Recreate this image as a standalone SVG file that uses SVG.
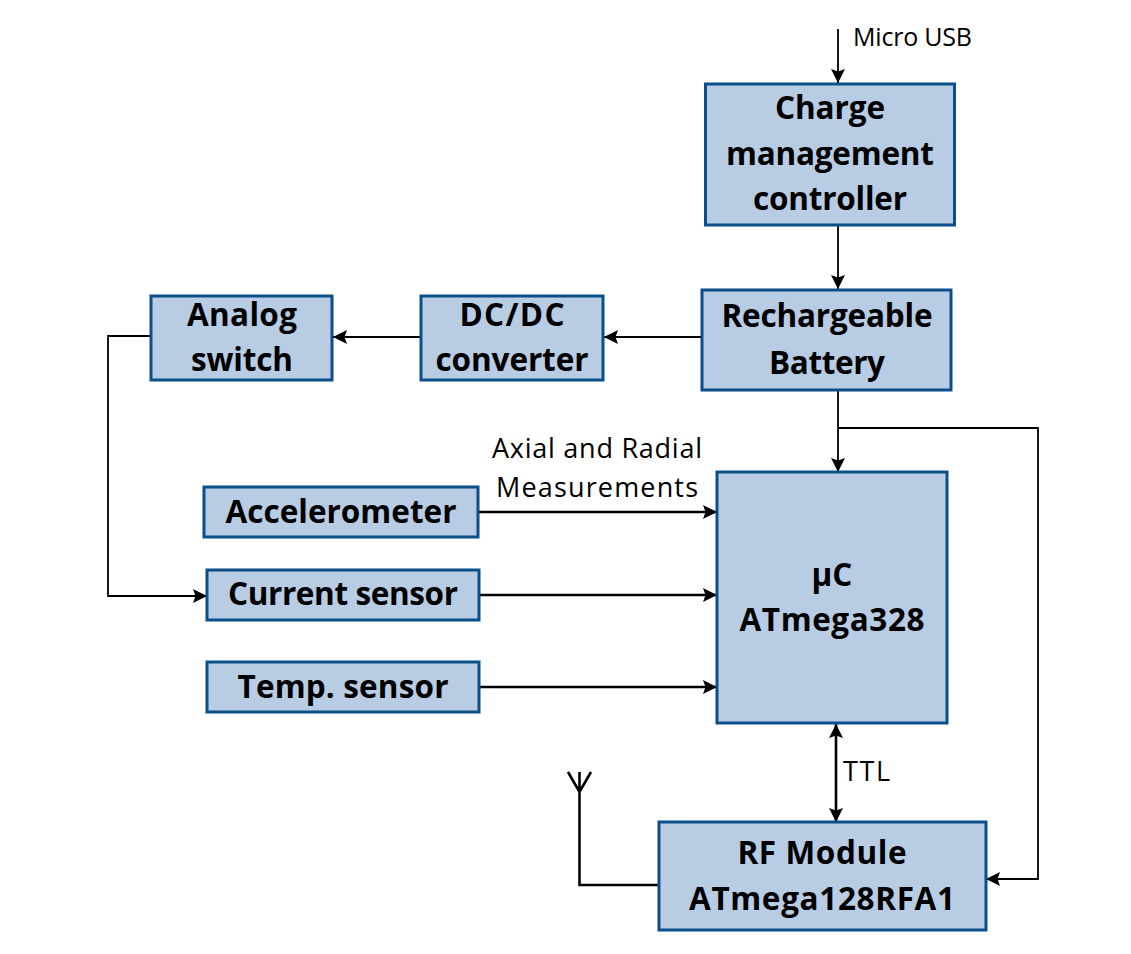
<svg xmlns="http://www.w3.org/2000/svg" width="1131" height="954" viewBox="0 0 1131 954">
<defs><marker id="a" markerUnits="userSpaceOnUse" markerWidth="16" markerHeight="16" refX="14" refY="8" orient="auto-start-reverse"><path d="M0 1 L14 8 L0 15 L2.5 8 Z" fill="#000"/></marker></defs>
<style>
.b{fill:#b8cce4;stroke:#0b4f8a;stroke-width:3}
.t{font-family:"Open Sans","Noto Sans",sans-serif;font-weight:700;font-size:31.5px;text-anchor:middle;fill:#000}
.l{font-family:"Open Sans","Noto Sans",sans-serif;font-size:27px;fill:#000}
.c{fill:none;stroke:#000;stroke-width:1.8}
.d{fill:none;stroke:#000;stroke-width:2.6}
</style>
<rect width="1131" height="954" fill="#fff"/>
<g id="connectors">
<path class="c" d="M838 29V83" marker-end="url(#a)"/>
<path class="c" d="M838 225V289" marker-end="url(#a)"/>
<path class="c" d="M702 337H604" marker-end="url(#a)"/>
<path class="c" d="M421 337H333" marker-end="url(#a)"/>
<path class="c" d="M151 336H108V596H207" marker-end="url(#a)"/>
<path class="c" d="M838 390V472" marker-end="url(#a)"/>
<path class="c" d="M838 428H1038V879H986" marker-end="url(#a)"/>
<path class="d" d="M478 512H717" marker-end="url(#a)"/>
<path class="d" d="M478 595H717" marker-end="url(#a)"/>
<path class="d" d="M478 687H717" marker-end="url(#a)"/>
<path class="d" d="M836 724V822" marker-start="url(#a)" marker-end="url(#a)"/>
<path class="d" d="M659 885H579.500V772M568 772L579.500 792L591 772"/>
</g>
<g id="charge"><rect class="b" x="705.500" y="84" width="249" height="141"/><text class="t" x="830" y="119" textLength="110">Charge</text><text class="t" x="830" y="165" textLength="208">management</text><text class="t" x="830" y="210" textLength="154">controller</text></g>
<g id="battery"><rect class="b" x="702" y="290" width="249" height="100"/><text class="t" x="827" y="327" textLength="211">Rechargeable</text><text class="t" x="827" y="374" textLength="116">Battery</text></g>
<g id="dcdc"><rect class="b" x="421" y="296" width="182" height="84"/><text class="t" x="512" y="326" textLength="105">DC/DC</text><text class="t" x="512" y="371" textLength="153">converter</text></g>
<g id="switch"><rect class="b" x="151" y="296" width="181" height="84"/><text class="t" x="242" y="326" textLength="110">Analog</text><text class="t" x="242" y="371" textLength="102">switch</text></g>
<g id="accel"><rect class="b" x="204" y="487" width="274" height="50"/><text class="t" x="341" y="523" textLength="231">Accelerometer</text></g>
<g id="current"><rect class="b" x="207" y="570" width="272" height="50"/><text class="t" x="343" y="605" textLength="230">Current sensor</text></g>
<g id="temp"><rect class="b" x="207" y="662" width="272" height="50"/><text class="t" x="343" y="698" textLength="211">Temp. sensor</text></g>
<g id="uc"><rect class="b" x="717" y="472" width="230" height="251"/><text class="t" x="832" y="586">µC</text><text class="t" x="832" y="631" textLength="185">ATmega328</text></g>
<g id="rf"><rect class="b" x="659" y="822" width="327" height="108"/><text class="t" x="822" y="864" textLength="169">RF Module</text><text class="t" x="822" y="910" textLength="266">ATmega128RFA1</text></g>
<text class="l" x="853" y="46" textLength="119" style="font-size:25px">Micro USB</text>
<text class="l" x="492" y="458" textLength="210">Axial and Radial</text>
<text class="l" x="496" y="497" textLength="202">Measurements</text>
<text class="l" x="843" y="781" textLength="47">TTL</text>
</svg>
